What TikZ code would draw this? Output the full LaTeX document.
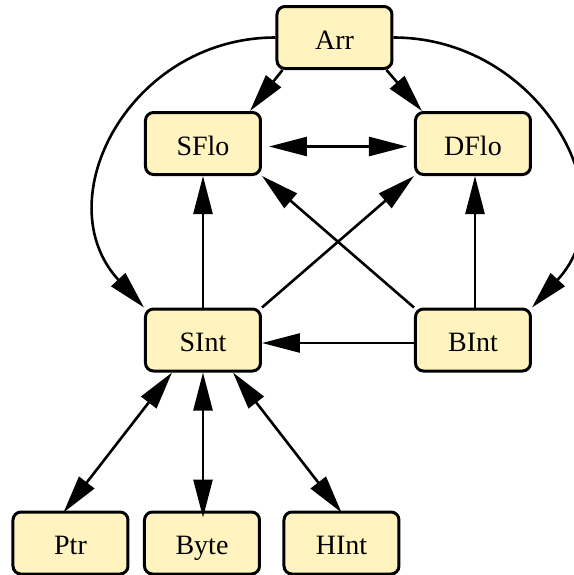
\documentclass[tikz,border=0pt]{standalone}
\usepackage{fontspec}
\setmainfont{Liberation Serif}
\usepackage{tikz}
\usetikzlibrary{arrows.meta, calc}
\definecolor{boxfill}{RGB}{255,244,192}
\tikzset{
    box/.style={
           rectangle,
           rounded corners=4pt,
           draw=black, line width=1.5pt,
           fill=boxfill,
           minimum width=57.5pt,
           minimum height=31pt,
           inner sep=0pt,
           text height=12pt, text depth=0.5pt,
           font=\fontsize{14}{16}\selectfont,
           text centered,
           },
}

\begin{document}
\begin{tikzpicture}[->,>={Triangle[length=19pt,width=9.5pt]},line width=1.3pt,x=0.5pt,y=-0.5pt]
  \useasboundingbox (0,0) rectangle (574,575);

  \node[box] (Arr)  at (334.5,37.5) {Arr};
  \node[box] (SFlo) at (203,143.5)  {SFlo};
  \node[box] (DFlo) at (473,143.5)  {DFlo};
  \node[box] (SInt) at (203,340)    {SInt};
  \node[box] (BInt) at (473,340)    {BInt};
  \node[box] (Ptr)  at (70.5,543)   {Ptr};
  \node[box] (Byte) at (202,543)    {Byte};
  \node[box] (HInt) at (341.5,543)  {HInt};

% Arr down to the floats
  \draw ($(Arr.south west)+(7,0)$)   -- ($(SFlo.north east)+(-12,0)$);
  \draw ($(Arr.south east)+(-7,0)$)  -- ($(DFlo.north west)+(8,0)$);

% Arr round the outside to the ints
  \draw (Arr.west) .. controls +(-146,0) and +(-99,-107) .. (SInt.north west);
  \draw (Arr.east) .. controls +(146,0) and +(99,-107) .. (BInt.north east);

% SFlo <-> DFlo
  \draw[<->] ($(SFlo.east)+(7,3)$) -- ($(DFlo.west)+(-7,3)$);

% ints up to the floats
  \draw (SInt.north)      -- (SFlo.south);
  \draw ($(BInt.north)+(2,0)$) -- ($(DFlo.south)+(2,0)$);
  \draw (SInt.north east) -- (DFlo.south west);
  \draw (BInt.north west) -- (SFlo.south east);

% BInt -> SInt
  \draw ($(BInt.west)+(0,3)$) -- ($(SInt.east)+(0,3)$);

% SInt <-> the small ones
  \draw[<->] ($(SInt.south west)+(28,0)$)  -- ($(Ptr.north)+(-7,2)$);
  \draw[<->] (SInt.south)                  -- ($(Byte.north)+(1,7)$);
  \draw[<->] ($(SInt.south east)+(-29,0)$) -- ($(HInt.north)+(0,2)$);

\end{tikzpicture}
\end{document}
